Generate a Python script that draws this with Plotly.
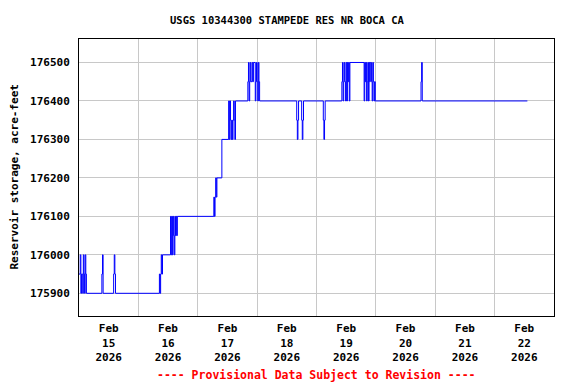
import plotly.graph_objects as go

# Step-change points of reservoir storage (acre-feet)
times = [
    "2026-02-15 00:00", "2026-02-15 00:30", "2026-02-15 00:45", "2026-02-15 01:00",
    "2026-02-15 01:30", "2026-02-15 01:45", "2026-02-15 02:00", "2026-02-15 02:15",
    "2026-02-15 02:30", "2026-02-15 02:45", "2026-02-15 03:00",
    "2026-02-15 09:15", "2026-02-15 09:30", "2026-02-15 09:45",
    "2026-02-15 14:00", "2026-02-15 14:15", "2026-02-15 14:30", "2026-02-15 14:45",
    "2026-02-16 08:30", "2026-02-16 08:45", "2026-02-16 09:00", "2026-02-16 09:15",
    "2026-02-16 09:30", "2026-02-16 09:45",
    "2026-02-16 13:00", "2026-02-16 13:15", "2026-02-16 13:30", "2026-02-16 13:45",
    "2026-02-16 14:00", "2026-02-16 14:15", "2026-02-16 14:30", "2026-02-16 14:45",
    "2026-02-16 15:00", "2026-02-16 15:15", "2026-02-16 15:30", "2026-02-16 15:45",
    "2026-02-17 06:30", "2026-02-17 06:45", "2026-02-17 07:00", "2026-02-17 07:15",
    "2026-02-17 07:30", "2026-02-17 07:45",
    "2026-02-17 09:45",
    "2026-02-17 12:30", "2026-02-17 12:45", "2026-02-17 13:00", "2026-02-17 13:15",
    "2026-02-17 13:30", "2026-02-17 13:45", "2026-02-17 14:00", "2026-02-17 14:15",
    "2026-02-17 14:30", "2026-02-17 14:45", "2026-02-17 15:00", "2026-02-17 15:15",
    "2026-02-17 20:15", "2026-02-17 20:30", "2026-02-17 20:45", "2026-02-17 21:00",
    "2026-02-17 21:15", "2026-02-17 21:30", "2026-02-17 22:00", "2026-02-17 22:15",
    "2026-02-17 22:30", "2026-02-17 23:15", "2026-02-17 23:30", "2026-02-17 23:45",
    "2026-02-18 00:00", "2026-02-18 00:15", "2026-02-18 00:30", "2026-02-18 00:45",
    "2026-02-18 01:00",
    "2026-02-18 16:00", "2026-02-18 16:15", "2026-02-18 16:30", "2026-02-18 16:45",
    "2026-02-18 18:00", "2026-02-18 18:15", "2026-02-18 18:30", "2026-02-18 18:45",
    "2026-02-19 02:45", "2026-02-19 03:00", "2026-02-19 03:15", "2026-02-19 03:30",
    "2026-02-19 10:15", "2026-02-19 10:30", "2026-02-19 10:45", "2026-02-19 11:00",
    "2026-02-19 11:15", "2026-02-19 11:30", "2026-02-19 11:45", "2026-02-19 12:00",
    "2026-02-19 12:15", "2026-02-19 12:30", "2026-02-19 12:45", "2026-02-19 13:00",
    "2026-02-19 13:15", "2026-02-19 13:30",
    "2026-02-19 19:15", "2026-02-19 19:30", "2026-02-19 19:45", "2026-02-19 20:00",
    "2026-02-19 20:15", "2026-02-19 20:30", "2026-02-19 20:45", "2026-02-19 21:00",
    "2026-02-19 21:15", "2026-02-19 21:30", "2026-02-19 21:45", "2026-02-19 22:15",
    "2026-02-19 22:30", "2026-02-19 22:45", "2026-02-19 23:00", "2026-02-19 23:15",
    "2026-02-19 23:30", "2026-02-19 23:45",
    "2026-02-20 18:15", "2026-02-20 18:30", "2026-02-20 18:45",
    "2026-02-22 13:15",
]
storage = [
    175950, 176000, 175900, 175950,
    175900, 176000, 175950, 175900,
    176000, 175950, 175900,
    175950, 176000, 175900,
    175950, 176000, 175950, 175900,
    175950, 175900, 175950, 176000,
    175950, 176000,
    176100, 176000, 176100, 176000,
    176100, 176050, 176000, 176100,
    176050, 176100, 176050, 176100,
    176150, 176100, 176150, 176200,
    176150, 176200,
    176300,
    176400, 176300, 176400, 176350,
    176300, 176350, 176300, 176350,
    176400, 176350, 176300, 176400,
    176450, 176500, 176400, 176450,
    176500, 176450, 176500, 176450,
    176500, 176400, 176450, 176500,
    176450, 176400, 176500, 176450,
    176400,
    176350, 176300, 176350, 176400,
    176350, 176300, 176350, 176400,
    176350, 176300, 176350, 176400,
    176450, 176500, 176400, 176450,
    176500, 176450, 176400, 176500,
    176400, 176500, 176450, 176500,
    176400, 176500,
    176400, 176500, 176450, 176500,
    176400, 176450, 176500, 176400,
    176500, 176450, 176500, 176450,
    176400, 176500, 176450, 176400,
    176450, 176400,
    176450, 176500, 176400,
    176400,
]

day_ticks = ["2026-02-%02d 12:00" % d for d in range(15, 23)]
day_labels = ["Feb<br>%d<br>2026" % d for d in range(15, 23)]
midnights = ["2026-02-%02d 00:00" % d for d in range(16, 23)]
y_ticks = [175900, 176000, 176100, 176200, 176300, 176400, 176500]
y_labels = [str(v) for v in y_ticks]

FONT = "DejaVu Sans Mono"

fig = go.Figure()
fig.add_trace(go.Scatter(
    x=times, y=storage, mode="lines", line_shape="hv",
    line=dict(color="#0000ff", width=1), showlegend=False, hoverinfo="skip",
))

fig.update_layout(
    width=576, height=384,
    margin=dict(l=79, r=22, t=39, b=68),
    paper_bgcolor="white", plot_bgcolor="white",
    font=dict(family=FONT, size=11, color="black", weight="bold"),
    xaxis=dict(
        range=["2026-02-15 00:00", "2026-02-23 00:00"],
        tickmode="array", tickvals=day_ticks, ticktext=day_labels,
        showgrid=False, ticks="", ticklabelstandoff=2,
        minor=dict(tickmode="array", tickvals=midnights, showgrid=True,
                   gridcolor="#c8c8c8", gridwidth=1, ticks=""),
        showline=True, linecolor="black", linewidth=1, mirror=True,
        zeroline=False, fixedrange=True,
    ),
    yaxis=dict(
        range=[175841, 176561],
        tickmode="array", tickvals=y_ticks, ticktext=y_labels,
        showgrid=True, gridcolor="#c8c8c8", gridwidth=1,
        ticks="", ticklabelstandoff=6,
        showline=True, linecolor="black", linewidth=1, mirror=True,
        zeroline=False, fixedrange=True,
    ),
    annotations=[
        dict(text="USGS 10344300 STAMPEDE RES NR BOCA CA", xref="paper", yref="paper",
             x=(287 - 79) / 475, y=1 + (39 - 20) / 277, xanchor="center", yanchor="middle",
             showarrow=False, font=dict(family=FONT, size=10.5, weight="bold")),
        dict(text="Reservoir storage, acre-feet", xref="paper", yref="paper",
             x=-(79 - 14) / 475, y=0.5 + (177.5 - 189) / 277 * -1 * 0 + 0.0, xanchor="center",
             yanchor="middle", textangle=-90,
             showarrow=False, font=dict(family=FONT, size=11, weight="bold")),
        dict(text="---- Provisional Data Subject to Revision ----", xref="paper", yref="paper",
             x=0.5, y=-(375 - 316) / 277, xanchor="center", yanchor="middle",
             showarrow=False, font=dict(family=FONT, size=11.5, color="red", weight="bold")),
    ],
)

fig.write_html("out.html")
